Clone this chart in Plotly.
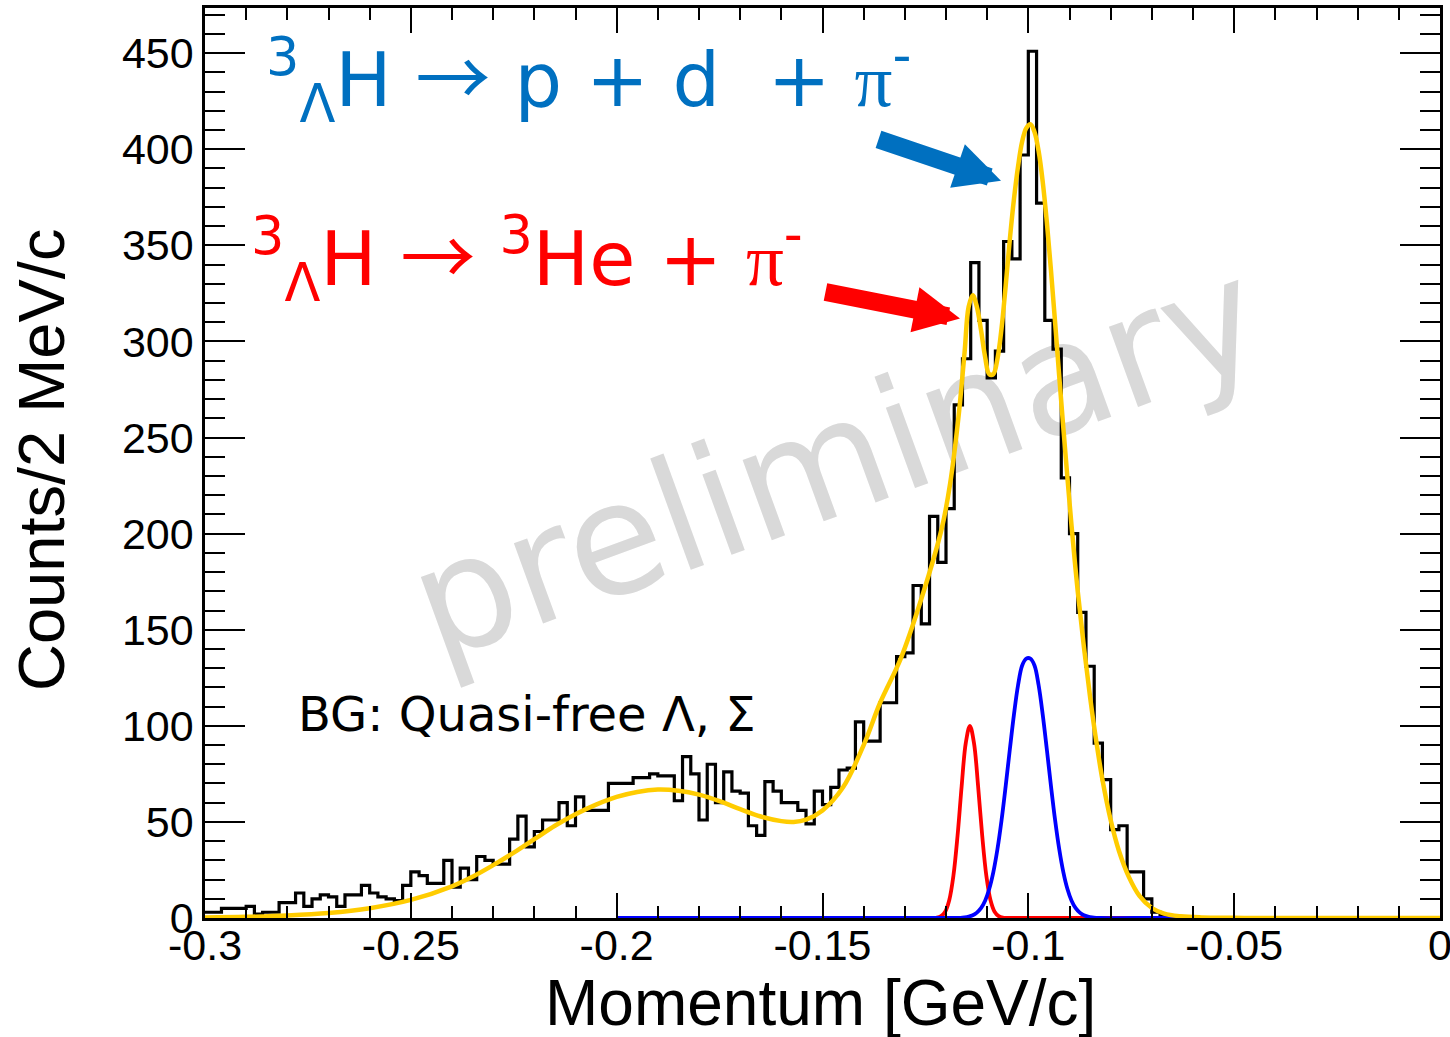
import numpy as np
import plotly.graph_objects as go

# ---------------- data ----------------
bin_low = -0.3
bin_width = 0.002
counts = [3, 3, 5, 5, 5, 6, 2, 3, 3, 8,
          8, 13, 6, 10, 12, 11, 6, 12, 12, 17,
          13, 11, 10, 9, 17, 24, 22, 18, 18, 30,
          16, 26, 20, 32, 30, 28, 28, 41, 53, 37,
          45, 51, 51, 60, 48, 63, 56, 56, 56, 70,
          70, 70, 73, 73, 75, 74, 74, 61, 84, 75,
          51, 80, 60, 76, 66, 65, 48, 43, 71, 66,
          60, 60, 56, 49, 66, 59, 68, 77, 78, 102,
          92, 92, 112, 112, 136, 138, 173, 153, 209, 185,
          213, 267, 291, 341, 311, 281, 295, 352, 343, 397,
          451, 372, 311, 296, 229, 200, 159, 131, 91, 72,
          46, 48, 24, 24, 10, 3, 1, 0, 0, 0,
          0, 0, 0, 0, 0, 0, 0, 0, 0, 0,
          0, 0, 0, 0, 0, 0, 0, 0, 0, 0,
          0, 0, 0, 0, 0, 0, 0, 0, 0, 0]

# total fit (yellow)
fit_x = [-0.300, -0.290, -0.280, -0.270, -0.260, -0.250, -0.240, -0.235, -0.230, -0.225,
         -0.220, -0.215, -0.210, -0.205, -0.200, -0.195, -0.190, -0.185, -0.180, -0.175,
         -0.170, -0.165, -0.160, -0.157, -0.154, -0.150, -0.145, -0.140, -0.136, -0.131,
         -0.126, -0.121, -0.119, -0.117, -0.1155, -0.1145, -0.1135, -0.1125, -0.1115, -0.1105,
         -0.1095, -0.1085, -0.1075, -0.1065, -0.1055, -0.1045, -0.1035, -0.1025, -0.1015, -0.1005,
         -0.0995, -0.0985, -0.0975, -0.0965, -0.0955, -0.0945, -0.0935, -0.0925, -0.0915, -0.0905,
         -0.0895, -0.088, -0.0865, -0.085, -0.0835, -0.082, -0.080, -0.078, -0.0755, -0.073,
         -0.070, -0.067, -0.063, -0.058, -0.050, -0.040, 0.0]
fit_y = [0.3, 0.6, 1.3, 2.6, 5.1, 9.4, 16.5, 21.5, 27.5, 34,
         41, 48, 54, 59, 63, 65.6, 66.8, 66.2, 64.2, 60.8,
         56.6, 52.8, 50.4, 50.0, 51.2, 56, 68, 90, 112, 135,
         166, 203, 226, 260, 294, 318, 324, 318, 306, 292,
         283, 283, 291, 307, 329, 353, 374, 391, 404, 411,
         413, 409, 399, 383, 362, 337, 310, 282, 255, 229,
         204, 170, 141, 115, 92, 72, 51, 35, 21, 11.5,
         5.2, 2.3, 0.9, 0.3, 0.1, 0.0, 0.0]

# 3ΛH -> 3He + pi- component (red)
red_x = [-0.200, -0.130, -0.1242, -0.1232, -0.1222, -0.1212, -0.1202, -0.1192, -0.1182, -0.1172,
         -0.1162, -0.1152, -0.1142, -0.1132, -0.1122, -0.1112, -0.1102, -0.1092, -0.1082, -0.1072,
         -0.1062, -0.1052, -0.1042, -0.098, 0.0]
red_y = [0, 0, 0, 0.05, 0.2, 1.0, 3.3, 9.4, 22, 42.7,
         68.5, 91, 100, 91, 68.5, 42.7, 22, 9.4, 3.3, 1.0,
         0.2, 0.05, 0, 0, 0]

# 3ΛH -> p + d + pi- component (blue)
blue_x = [-0.200, -0.125, -0.1165, -0.1155, -0.1145, -0.1135, -0.1125, -0.1115, -0.1105, -0.1095,
          -0.1085, -0.1075, -0.1065, -0.1055, -0.1045, -0.1035, -0.1025, -0.1015, -0.1005, -0.0995,
          -0.0985, -0.0975, -0.0965, -0.0955, -0.0945, -0.0935, -0.0925, -0.0915, -0.0905, -0.0895,
          -0.0885, -0.0875, -0.0865, -0.0855, -0.0845, -0.0835, -0.0825, -0.074, 0.0]
blue_y = [0, 0, 0.1, 0.3, 0.7, 1.4, 2.8, 5.1, 9.0, 15.1,
          23.9, 35.9, 51.0, 68.7, 87.6, 105.8, 121.1, 131.4, 135, 135,
          131.4, 121.1, 105.8, 87.6, 68.7, 51.0, 35.9, 23.9, 15.1, 9.0,
          5.1, 2.8, 1.4, 0.7, 0.3, 0.1, 0, 0, 0]

x_tickvals = [-0.3, -0.25, -0.2, -0.15, -0.1, -0.05, 0.0]
x_ticktext = ["-0.3", "-0.25", "-0.2", "-0.15", "-0.1", "-0.05", "0"]
y_tickvals = [0, 50, 100, 150, 200, 250, 300, 350, 400, 450]

# ---------------- figure ----------------
edges = bin_low + bin_width * np.arange(len(counts) + 1)
hist_y = list(counts) + [counts[-1]]

fig = go.Figure()
fig.add_trace(go.Scatter(x=edges, y=hist_y, mode="lines", line=dict(color="black", width=3.2, shape="hv"),
                         showlegend=False, hoverinfo="skip"))
fig.add_trace(go.Scatter(x=red_x, y=red_y, mode="lines", line=dict(color="#FF0000", width=3.8, shape="spline", smoothing=1),
                         showlegend=False, hoverinfo="skip"))
fig.add_trace(go.Scatter(x=blue_x, y=blue_y, mode="lines", line=dict(color="#0000FF", width=3.8, shape="spline", smoothing=1),
                         showlegend=False, hoverinfo="skip"))
fig.add_trace(go.Scatter(x=fit_x, y=fit_y, mode="lines", line=dict(color="#FFCC00", width=4.5, shape="spline", smoothing=1),
                         showlegend=False, hoverinfo="skip"))

tickfont = dict(family="Liberation Sans, Arial, sans-serif", size=43, color="black")
fig.update_xaxes(range=[-0.3, 0.0], tickvals=x_tickvals, ticktext=x_ticktext, tickfont=tickfont,
                 showline=True, linecolor="black", linewidth=2.5, mirror="ticks",
                 ticks="inside", ticklen=25, tickwidth=2, tickcolor="black",
                 minor=dict(ticks="inside", dtick=0.01, tick0=0, ticklen=12, tickwidth=2, tickcolor="black", showgrid=False),
                 showgrid=False, zeroline=False, ticklabelstandoff=-12, ticklabeloverflow="allow",
                 automargin=False)
fig.update_yaxes(range=[0, 473.5], tickvals=y_tickvals, tickfont=tickfont,
                 showline=True, linecolor="black", linewidth=2.5, mirror="ticks",
                 ticks="inside", ticklen=40, tickwidth=2, tickcolor="black",
                 minor=dict(ticks="inside", dtick=10, tick0=0, ticklen=20, tickwidth=2, tickcolor="black", showgrid=False),
                 showgrid=False, zeroline=False, ticklabelstandoff=0, ticklabeloverflow="allow",
                 automargin=False)

# watermark below the traces
fig.add_shape(type="line", xref="x", yref="y", x0=-0.1577, y0=244, x1=-0.1377, y1=244,
              line=dict(color="rgba(0,0,0,0)", width=0), layer="below",
              label=dict(text="preliminary", textangle=-20, textposition="middle", yanchor="middle",
                         font=dict(family="DejaVu Sans", size=156, color="#D9D9D9")))

big = dict(family="DejaVu Sans", size=75)
pi = "<span style='font-family:Liberation Serif'>π</span>"
arr = "<span style='font-family:Noto Sans CJK JP'>→</span>"
annotations = [
    dict(text="<sup>3</sup><sub>Λ</sub>H " + arr + " p + d  + " + pi + "<sup>-</sup>", xref="x", yref="y",
         x=-0.2857, y=438, xanchor="left", yanchor="middle", showarrow=False,
         font=dict(color="#0070C0", **big)),
    dict(text="<sup>3</sup><sub>Λ</sub>H " + arr + " <sup>3</sup>He + " + pi + "<sup>-</sup>", xref="x", yref="y",
         x=-0.2893, y=344.5, xanchor="left", yanchor="middle", showarrow=False,
         font=dict(color="#FF0000", **big)),
    dict(text="BG: Quasi-free Λ, Σ", xref="x", yref="y", x=-0.2780, y=106, xanchor="left", yanchor="middle",
         showarrow=False, font=dict(family="DejaVu Sans", size=48, color="black")),
    dict(text="", x=-0.10664, y=383.6, ax=-0.13676, ay=405.4, xref="x", yref="y", axref="x", ayref="y",
         showarrow=True, arrowhead=2, arrowsize=0.51, arrowwidth=18, arrowcolor="#0070C0", standoff=0),
    dict(text="", x=-0.11660, y=311.9, ax=-0.14964, ay=325.9, xref="x", yref="y", axref="x", ayref="y",
         showarrow=True, arrowhead=2, arrowsize=0.51, arrowwidth=18, arrowcolor="#FF0000", standoff=0),
    dict(text="Counts/2 MeV/c", xref="paper", yref="paper", x=0, y=0.5033, xshift=-163,
         xanchor="center", yanchor="middle", textangle=-90, showarrow=False,
         font=dict(family="Liberation Sans, Arial, sans-serif", size=65, color="black")),
    dict(text="Momentum [GeV/c]", xref="paper", yref="paper", x=0.498, y=0, yshift=-85,
         xanchor="center", yanchor="middle", showarrow=False,
         font=dict(family="Liberation Sans, Arial, sans-serif", size=64, color="black")),
]
fig.update_layout(width=1450, height=1037, margin=dict(l=205, r=10, t=8, b=119, pad=0, autoexpand=False),
                  paper_bgcolor="white", plot_bgcolor="white", annotations=annotations,
                  showlegend=False)

fig.write_html("out.html", config={"displayModeBar": False},
               post_script="document.body.style.margin='0';")
